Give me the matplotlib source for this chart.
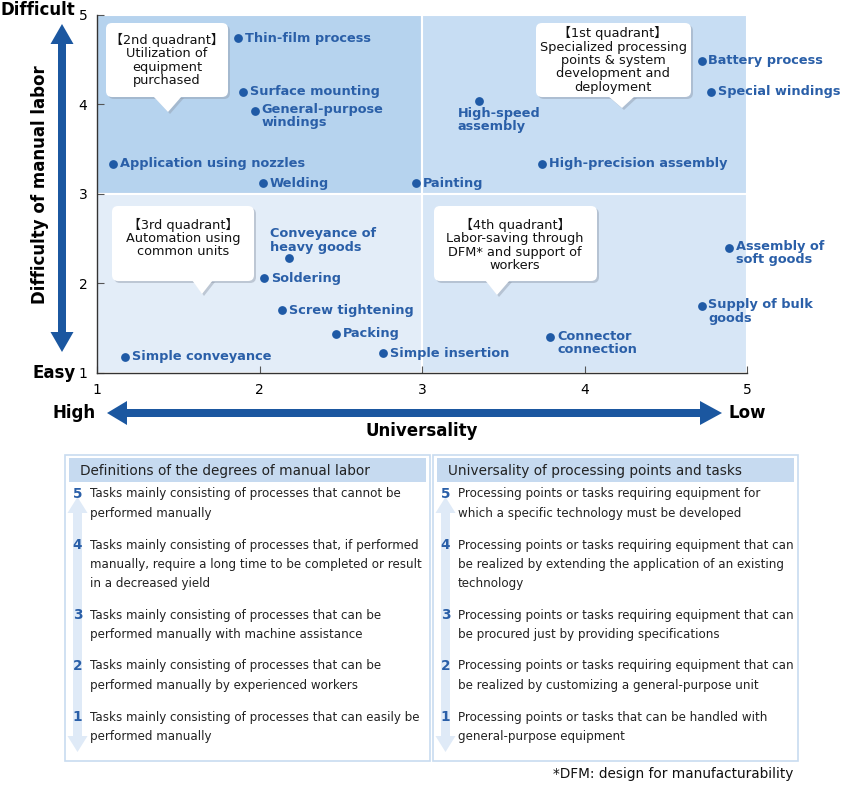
import matplotlib
matplotlib.use("Agg")
import matplotlib.pyplot as plt
from matplotlib.patches import Polygon, FancyBboxPatch, Rectangle
from matplotlib.transforms import Affine2D

W, H = 842, 787

# ---------------- data ----------------
processes = ["Thin-film process", "Surface mounting", "General-purpose\nwindings",
             "Application using nozzles", "Welding", "Painting", "High-speed\nassembly",
             "High-precision assembly", "Battery process", "Special windings",
             "Conveyance of\nheavy goods", "Soldering", "Screw tightening", "Packing",
             "Simple insertion", "Simple conveyance", "Assembly of\nsoft goods",
             "Supply of bulk\ngoods", "Connector\nconnection"]
universality = [1.87, 1.90, 1.97, 1.10, 2.02, 2.96, 3.35, 3.74, 4.72, 4.78,
                2.18, 2.03, 2.14, 2.47, 2.76, 1.17, 4.89, 4.72, 3.79]
difficulty = [4.74, 4.14, 3.93, 3.34, 3.12, 3.12, 4.04, 3.34, 4.49, 4.14,
              2.29, 2.06, 1.70, 1.44, 1.22, 1.18, 2.40, 1.75, 1.40]

quadrant_texts = ["\u30102nd quadrant\u3011\nUtilization of\nequipment\npurchased",
                  "\u30101st quadrant\u3011\nSpecialized processing\npoints & system\ndevelopment and\ndeployment",
                  "\u30103rd quadrant\u3011\nAutomation using\ncommon units",
                  "\u30104th quadrant\u3011\nLabor-saving through\nDFM* and support of\nworkers"]

levels = ["5", "4", "3", "2", "1"]
manual_title = "Definitions of the degrees of manual labor"
manual_defs = ["Tasks mainly consisting of processes that cannot be\nperformed manually",
               "Tasks mainly consisting of processes that, if performed\nmanually, require a long time to be completed or result\nin a decreased yield",
               "Tasks mainly consisting of processes that can be\nperformed manually with machine assistance",
               "Tasks mainly consisting of processes that can be\nperformed manually by experienced workers",
               "Tasks mainly consisting of processes that can easily be\nperformed manually"]
univ_title = "Universality of processing points and tasks"
univ_defs = ["Processing points or tasks requiring equipment for\nwhich a specific technology must be developed",
             "Processing points or tasks requiring equipment that can\nbe realized by extending the application of an existing\ntechnology",
             "Processing points or tasks requiring equipment that can\nbe procured just by providing specifications",
             "Processing points or tasks requiring equipment that can\nbe realized by customizing a general-purpose unit",
             "Processing points or tasks that can be handled with\ngeneral-purpose equipment"]
footnote = "*DFM: design for manufacturability"

# ---------------- layout / style ----------------
label_layout = {
    "High-speed\nassembly": (-21, -6, "left", "top"),
    "Conveyance of\nheavy goods": (-19, 4, "left", "bottom"),
}
DOT = "#1f5aa6"
TXT = "#2a5fa8"
ARROW = "#1b57a0"

fig = plt.figure(figsize=(W / 100, H / 100), dpi=100)
P = Affine2D().scale(1 / W, -1 / H).translate(0, 1) + fig.transFigure

ax = fig.add_axes([97 / W, 1 - 373 / H, 650 / W, 358 / H])
ax.set_xlim(1, 5)
ax.set_ylim(1, 5)
quad_colors = {(1, 3): "#b6d3ee", (3, 3): "#c7ddf3", (1, 1): "#e3edf8", (3, 1): "#d7e6f6"}
for (qx, qy), c in quad_colors.items():
    ax.add_patch(Rectangle((qx, qy), 2, 2, facecolor=c, edgecolor="white", lw=1.5, zorder=0))
for s in ["top", "right"]:
    ax.spines[s].set_visible(False)
for s in ["left", "bottom"]:
    ax.spines[s].set_color("#333333")
    ax.spines[s].set_linewidth(1.0)
    ax.spines[s].set_zorder(3)
ax.set_xticks([1, 2, 3, 4, 5])
ax.set_yticks([1, 2, 3, 4, 5])
ax.tick_params(direction="in", length=5, color="#555555", labelsize=10, pad=7)

ax.scatter(universality, difficulty, s=40, color=DOT, zorder=4, clip_on=False, linewidths=0)
for name, xv, yv in zip(processes, universality, difficulty):
    if name in label_layout:
        dx, dy, ha, va = label_layout[name]
    elif "\n" in name:
        dx, dy, ha, va = (7, 7.5, "left", "top")
    else:
        dx, dy, ha, va = (7, 0, "left", "center")
    ax.annotate(name, (xv, yv), xytext=(dx, dy), textcoords="offset pixels",
                ha=ha, va=va, fontsize=9.3, fontweight="bold", color=TXT,
                linespacing=1.02, zorder=5, annotation_clip=False)


def add_poly(pts, **kw):
    fig.add_artist(Polygon(pts, closed=True, transform=P, **kw))


callouts = [((106, 23, 228, 97), (153, 182), (168, 112), (167, 60)),
            ((536, 23, 691, 97), (608, 635), (622, 108), (613, 60)),
            ((112, 206, 254, 281), (192, 213), (202, 294), (183, 238)),
            ((434, 206, 597, 281), (485, 510), (497, 295), (515, 245))]
for (box, base, tip, tc), txt in zip(callouts, quadrant_texts):
    x0, y0, x1, y1 = box
    for off, col, al in [(2, "#8f9aaa", 0.45), (0, "white", 1.0)]:
        fig.add_artist(FancyBboxPatch((x0 + off, y0 + off), x1 - x0, y1 - y0,
                                      boxstyle="round,pad=0,rounding_size=6",
                                      transform=P, facecolor=col, edgecolor="none", alpha=al))
        add_poly([(base[0] + off, y1 - 1 + off), (base[1] + off, y1 - 1 + off), (tip[0] + off, tip[1] + off)],
                 facecolor=col, edgecolor="none", alpha=al)
    fig.text(tc[0], tc[1], txt, transform=P, ha="center", va="center", fontsize=9.3,
             family=["DejaVu Sans", "Noto Sans CJK JP"], linespacing=1.03, color="#111111")


def vert_double(xc, ytop, ybot, shaft, headw, headl):
    return [(xc, ytop), (xc + headw / 2, ytop + headl), (xc + shaft / 2, ytop + headl),
            (xc + shaft / 2, ybot - headl), (xc + headw / 2, ybot - headl), (xc, ybot),
            (xc - headw / 2, ybot - headl), (xc - shaft / 2, ybot - headl),
            (xc - shaft / 2, ytop + headl), (xc - headw / 2, ytop + headl)]


add_poly(vert_double(62, 24, 352, 8, 23, 20), facecolor=ARROW, edgecolor="none")
hx = [(107, 413), (127, 401), (127, 409), (700, 409), (700, 401), (722, 413),
      (700, 425), (700, 417), (127, 417), (127, 425)]
add_poly(hx, facecolor=ARROW, edgecolor="none")

fig.text(0, 10, "Difficult", transform=P, ha="left", va="center", fontsize=12, fontweight="bold")
fig.text(32, 373, "Easy", transform=P, ha="left", va="center", fontsize=12, fontweight="bold")
fig.text(53, 413, "High", transform=P, ha="left", va="center", fontsize=12, fontweight="bold")
fig.text(729, 413, "Low", transform=P, ha="left", va="center", fontsize=12, fontweight="bold")
fig.text(422, 431, "Universality", transform=P, ha="center", va="center", fontsize=12, fontweight="bold")
fig.text(40, 185, "Difficulty of manual labor", transform=P, ha="center", va="center",
         rotation=90, fontsize=12, fontweight="bold")

# ---------------- definition panels ----------------
row_y = [494, 545, 615, 666, 717]


def panel(x0, x1, title, defs):
    fig.add_artist(Rectangle((x0, 455), x1 - x0, 306, transform=P, facecolor="white",
                             edgecolor="#c8dcf0", lw=1.2))
    fig.add_artist(Rectangle((x0 + 4, 458), x1 - x0 - 8, 24, transform=P, facecolor="#c6daf0",
                             edgecolor="none"))
    fig.text(x0 + 15, 470.5, title, transform=P, ha="left", va="center", fontsize=9.8, color="#222222")
    ac = x0 + 12.5
    add_poly(vert_double(ac, 497, 752, 9, 20, 16), facecolor="#dfeaf7", edgecolor="none")
    for lv, d, yy in zip(levels, defs, row_y):
        fig.text(ac, yy, lv, transform=P, ha="center", va="center", fontsize=9.8,
                 fontweight="bold", color="#2a5fa8")
        fig.text(x0 + 25, yy - 6.5, d, transform=P, ha="left", va="top", fontsize=8.6,
                 color="#222222", linespacing=1.62)


panel(65, 430, manual_title, manual_defs)
panel(433, 798, univ_title, univ_defs)
fig.text(793, 774, footnote, transform=P, ha="right", va="center", fontsize=9.8, color="#111111")

fig.savefig("out.png", dpi=100)
